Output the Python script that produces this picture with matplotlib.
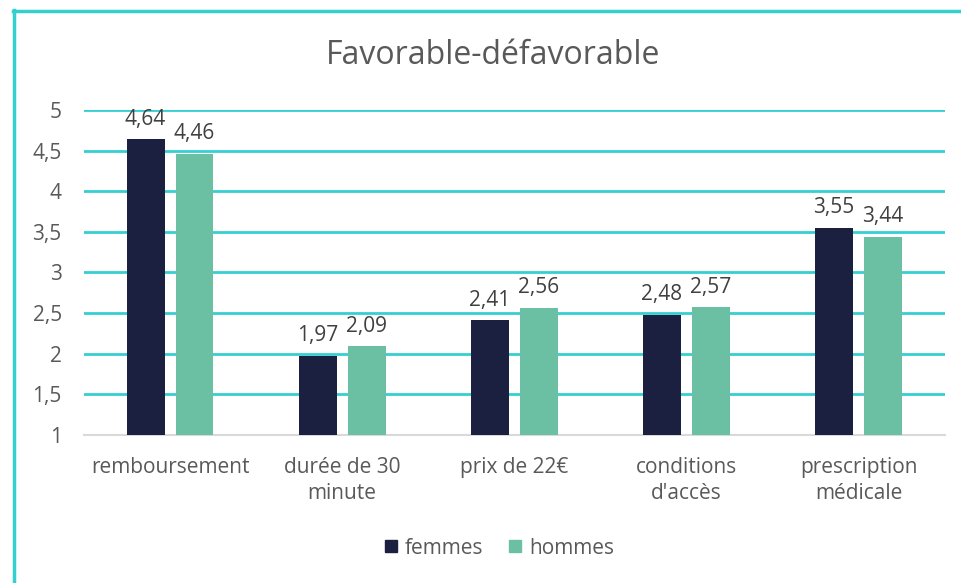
import matplotlib.pyplot as plt
import numpy as np
from matplotlib.lines import Line2D

categories = ["remboursement", "durée de 30\nminute", "prix de 22€", "conditions\nd'accès", "prescription\nmédicale"]
femmes = [4.64, 1.97, 2.41, 2.48, 3.55]
hommes = [4.46, 2.09, 2.56, 2.57, 3.44]
yticks = [1, 1.5, 2, 2.5, 3, 3.5, 4, 4.5, 5]

plt.rcParams['font.family'] = ['Open Sans', 'DejaVu Sans']
grey = '#595959'
teal = '#36cfd0'
c_f = '#1c2040'
c_h = '#6bc0a3'

fig = plt.figure(figsize=(9.61, 5.83), dpi=100)
ax = fig.add_axes([0.0874, 0.2539, 0.8956, 0.5574])

x = np.arange(len(categories))
w = 0.22
off = 0.142
b1 = ax.bar(x - off, femmes, w, bottom=0, color=c_f, label='femmes', zorder=3)
b2 = ax.bar(x + off, hommes, w, bottom=0, color=c_h, label='hommes', zorder=3)

def fmt(v):
    return f"{v:.2f}".replace('.', ',')

for bars, vals in ((b1, femmes), (b2, hommes)):
    for b, v in zip(bars, vals):
        ax.text(b.get_x() + b.get_width() / 2, v + 0.12, fmt(v), ha='center', va='bottom',
                fontsize=15, color='#404040', zorder=4)

ax.set_ylim(1, 5)
ax.set_xlim(-0.5, len(categories) - 0.5)
ax.set_yticks(yticks)
ax.set_yticklabels([f"{t:g}".replace('.', ',') for t in yticks], fontsize=15, color=grey)
ax.set_xticks(x)
ax.set_xticklabels(categories, fontsize=15, color=grey, linespacing=1.3)
ax.tick_params(axis='y', length=0, pad=16)
ax.tick_params(axis='x', length=0, pad=16)

for t in yticks[1:]:
    ax.axhline(t, color=teal, lw=2, zorder=1)
for s in ['top', 'right', 'left']:
    ax.spines[s].set_visible(False)
ax.spines['bottom'].set_color('#d9d9d9')
ax.spines['bottom'].set_linewidth(1.5)

fig.text(0.513, 0.904, "Favorable-défavorable", ha='center', va='center', fontsize=23, color=grey)

handles = [Line2D([], [], marker='s', ls='', color=c_f, markersize=9),
           Line2D([], [], marker='s', ls='', color=c_h, markersize=9)]
fig.legend(handles, ['femmes', 'hommes'], loc='center', bbox_to_anchor=(0.519, 0.06), ncol=2,
           frameon=False, fontsize=15, labelcolor=grey, handlelength=0.7, handletextpad=0.3,
           columnspacing=1.2)

# border of the chart area
fig.add_artist(Line2D([13 / 961, 1], [1 - 11 / 583, 1 - 11 / 583], transform=fig.transFigure, color=teal, lw=2.5))
fig.add_artist(Line2D([14 / 961, 14 / 961], [0, 1 - 10 / 583], transform=fig.transFigure, color=teal, lw=2.5))

fig.savefig("out.png", dpi=100)
